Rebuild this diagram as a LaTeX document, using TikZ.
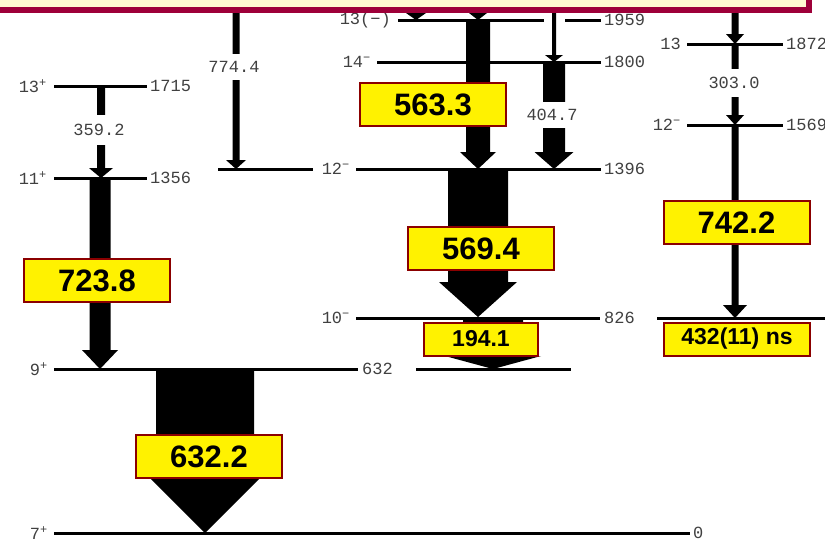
\documentclass[tikz,border=0pt]{standalone}
\usepackage{fontspec}
\setmainfont{Liberation Sans}
\newfontfamily\monofont{Liberation Mono}

\definecolor{bandeau}{RGB}{255,250,208}
\definecolor{bordeau}{RGB}{158,0,57}
\definecolor{cadre}{RGB}{139,0,0}

% Fleche epaisse : x, haut, bas, demi-tronc, demi-pointe, longueur de pointe
\newcommand{\fleche}[6]{%
  \fill (#1-#4,#2) -- (#1+#4,#2) -- (#1+#4,#3-#6) -- (#1+#5,#3-#6)
    -- (#1,#3) -- (#1-#5,#3-#6) -- (#1-#4,#3-#6) -- cycle;}

\begin{document}
\begin{tikzpicture}[x=1pt, y=-1pt,
    niveau/.style={line width=3pt},
    spin/.style={font=\monofont\fontsize{17}{17}\selectfont, text=black!75, inner sep=0pt},
    energie/.style={spin, anchor=west},
    raie/.style={spin, fill=white, inner xsep=1pt, inner ysep=7pt},
    boite/.style={draw=cadre, fill=yellow, line width=2pt, inner sep=0pt,
      font=\fontsize{31}{31}\selectfont\bfseries, minimum width=146pt, minimum height=43pt},
    petiteboite/.style={boite, minimum height=33pt, font=\fontsize{23}{23}\selectfont\bfseries}]

    \useasboundingbox (0,0) rectangle (825,542);

    % Hauteurs des niveaux (en pixels depuis le haut)
    \def\hgs{533}        % 7+   0
    \def\hnine{369}      % 9+   632
    \def\hten{318}       % 10-  826
    \def\heleven{178}    % 11+  1356
    \def\htwelve{169}    % 12-  1396
    \def\hthirteen{86}   % 13+  1715
    \def\hfourteen{62}   % 14-  1800
    \def\htop{20}        % 13(-) 1959
    \def\hrA{44}         % 13   1872
    \def\hrB{125}        % 12-  1569

    % ==============================================
    % Niveaux
    % ==============================================
    \foreach \xa/\xb/\yy in {54/147/\hthirteen, 54/147/\heleven, 54/358/\hnine, 416/571/\hnine,
        54/690/\hgs, 218/313/\htwelve, 356/601/\htwelve, 356/600/\hten, 657/825/\hten,
        377/601/\hfourteen, 398/544/\htop, 565/601/\htop, 687/783/\hrA, 687/783/\hrB}
      \draw[niveau] (\xa,\yy) -- (\xb,\yy);

    % Spins
    \node[spin, anchor=east] (s13p) at (47,\hthirteen) {13\textsuperscript{+}};
    \node[spin, anchor=east] (s11p) at (47,\heleven) {11\textsuperscript{+}};
    \node[spin, anchor=east] (s9p) at (48,\hnine) {9\textsuperscript{+}};
    \node[spin, anchor=east] (s7p) at (48,\hgs) {7\textsuperscript{+}};
    \node[spin, anchor=east] (s12m) at (350,\htwelve) {12\textsuperscript{−}};
    \node[spin, anchor=east] (s10m) at (350,\hten) {10\textsuperscript{−}};
    \node[spin, anchor=east] (s14m) at (371,\hfourteen) {14\textsuperscript{−}};
    \node[spin, anchor=east] (s13m) at (391,\htop) {13(−)};
    \node[spin, anchor=east] (s13r) at (681,\hrA) {13};
    \node[spin, anchor=east] (s12r) at (681,\hrB) {12\textsuperscript{−}};

    % Energies
    \node[energie] (e1715) at (150,\hthirteen) {1715};
    \node[energie] (e1356) at (150,\heleven) {1356};
    \node[energie] (e632) at (362,\hnine) {632};
    \node[energie] (e0) at (693,\hgs) {0};
    \node[energie] (e1396) at (604,\htwelve) {1396};
    \node[energie] (e826) at (604,\hten) {826};
    \node[energie] (e1800) at (604,\hfourteen) {1800};
    \node[energie] (e1959) at (604,\htop) {1959};
    \node[energie] (e1872) at (786,\hrA) {1872};
    \node[energie] (e1569) at (786,\hrB) {1569};

    % ==============================================
    % Transitions
    % ==============================================
    \fleche{101}{\hthirteen}{\heleven}{4}{12}{10}
    \fleche{100}{\heleven}{\hnine}{10.5}{18}{19}
    \fleche{205}{\hnine}{\hgs}{49}{65}{65}
    \fleche{236}{13}{\htwelve}{3.5}{10}{9}
    \fleche{416}{0}{\htop}{3}{10}{7}
    \fleche{478}{0}{\htop}{4}{9}{7}
    \fleche{478}{\htop}{\htwelve}{12}{18}{17}
    \fleche{554}{0}{\hfourteen}{2}{9}{7}
    \fleche{554}{\hfourteen}{\htwelve}{11}{19.5}{17}
    \fleche{478}{\htwelve}{317}{30}{39}{35}
    \fleche{493}{\hten}{\hnine}{30}{48}{13}
    \fleche{735}{0}{\hrA}{3.5}{9}{10}
    \fleche{735}{\hrA}{\hrB}{3.5}{9}{10}
    \fleche{735}{\hrB}{\hten}{3.5}{12}{13}

    % Energies des raies faibles
    \node[raie, inner ysep=9pt] (g359) at (99,130) {359.2};
    \node[raie] (g774) at (234,67) {774.4};
    \node[raie] (g404) at (552,115) {404.7};
    \node[raie, inner ysep=8pt] (g303) at (734,83) {303.0};

    % Raies intenses
    \node[boite] (b723) at (97,280.5) {723.8};
    \node[boite] (b632) at (209,456.5) {632.2};
    \node[boite] (b563) at (433,104.5) {563.3};
    \node[boite] (b569) at (481,248.5) {569.4};
    \node[boite] (b742) at (736.5,222.5) {742.2};
    \node[petiteboite, minimum width=114pt] (b194) at (481,339) {194.1};
    \node[petiteboite] (b432) at (737,339) {432(11) ns};

    % Bandeau du haut
    \draw[bordeau, line width=6pt, fill=bandeau] (-10,-10) rectangle (809,10);

\end{tikzpicture}
\end{document}
